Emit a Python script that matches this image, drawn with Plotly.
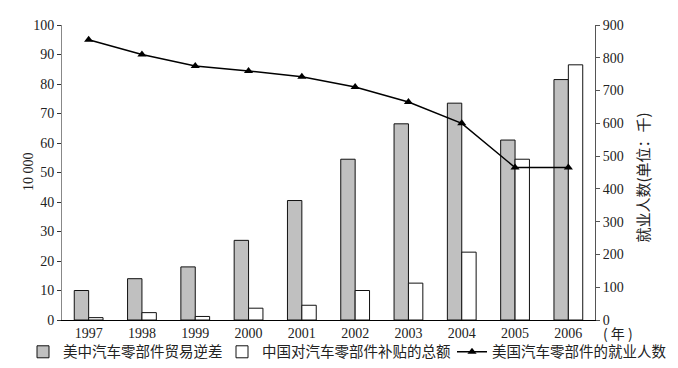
import plotly.graph_objects as go

years = ["1997", "1998", "1999", "2000", "2001", "2002", "2003", "2004", "2005", "2006"]
trade_deficit = [10, 14, 18, 27, 40.5, 54.5, 66.5, 73.5, 61, 81.5]
subsidy_total = [0.8, 2.5, 1.2, 4, 5, 10, 12.5, 23, 54.5, 86.5]
employment = [855, 810, 775, 760, 742, 711, 665, 600, 465, 465]

serif = "Liberation Serif, Times New Roman, serif"
cjk = "Noto Sans CJK SC, sans-serif"

fig = go.Figure()
fig.add_trace(go.Bar(
    x=years, y=trade_deficit, name="美中汽车零部件贸易逆差", legend="legend",
    marker=dict(color="#c0c0c0", line=dict(color="#111111", width=1)),
))
fig.add_trace(go.Bar(
    x=years, y=subsidy_total, name="中国对汽车零部件补贴的总额", legend="legend2",
    marker=dict(color="#ffffff", line=dict(color="#111111", width=1)),
))
fig.add_trace(go.Scatter(
    x=years, y=employment, name="美国汽车零部件的就业人数", yaxis="y2", legend="legend3",
    mode="lines+markers",
    line=dict(color="#000000", width=1.5),
    marker=dict(symbol="triangle-up", size=8, color="#000000"),
))

legend_common = dict(
    orientation="h",
    y=-0.108, xanchor="left", yanchor="middle",
    font=dict(family=cjk, size=14.5, color="#222222"),
    itemwidth=30, bgcolor="rgba(0,0,0,0)",
)

fig.update_layout(
    width=678, height=368,
    margin=dict(l=62, r=83, t=25, b=48, autoexpand=False),
    paper_bgcolor="white", plot_bgcolor="white",
    barmode="group", bargap=0.46, bargroupgap=0,
    font=dict(family=serif, size=14, color="#222222"),
    xaxis=dict(
        type="category", range=[-0.5, 9.5],
        showline=True, linecolor="#000000", linewidth=1,
        ticks="", showgrid=False, zeroline=False,
        tickfont=dict(family=serif, size=14, color="#222222"),
    ),
    yaxis=dict(
        range=[0, 100], dtick=10,
        showline=True, linecolor="#888888", linewidth=1,
        ticks="outside", ticklen=4, tickcolor="#333333",
        showgrid=False, zeroline=False,
        tickfont=dict(family=serif, size=14, color="#222222"),
    ),
    yaxis2=dict(
        range=[0, 900], dtick=100, overlaying="y", side="right",
        showline=True, linecolor="#555555", linewidth=1,
        ticks="outside", ticklen=4, tickcolor="#555555",
        showgrid=False, zeroline=False,
        tickfont=dict(family=serif, size=14, color="#222222"),
    ),
    showlegend=True,
    legend=dict(legend_common, x=(23 - 62) / 533),
    legend2=dict(legend_common, x=(222 - 62) / 533),
    legend3=dict(legend_common, x=(452 - 62) / 533),
    annotations=[
        dict(text="10 000", x=-0.064, y=0.505, xref="paper", yref="paper",
             xanchor="center", yanchor="middle",
             showarrow=False, textangle=-90,
             font=dict(family=serif, size=14, color="#222222")),
        dict(text="就业人数(单位：千)", x=1.09, y=0.483, xref="paper", yref="paper",
             xanchor="center", yanchor="middle",
             showarrow=False, textangle=-90,
             font=dict(family=cjk, size=15, color="#222222")),
        dict(text="( 年 )", x=1.043, y=-0.043, xref="paper", yref="paper",
             xanchor="center", yanchor="middle",
             showarrow=False,
             font=dict(family=cjk, size=14, color="#222222")),
    ],
)

fig.write_html(
    "out.html",
    config={"displayModeBar": False},
    post_script="document.body.style.margin='0';document.body.style.padding='0';",
)
